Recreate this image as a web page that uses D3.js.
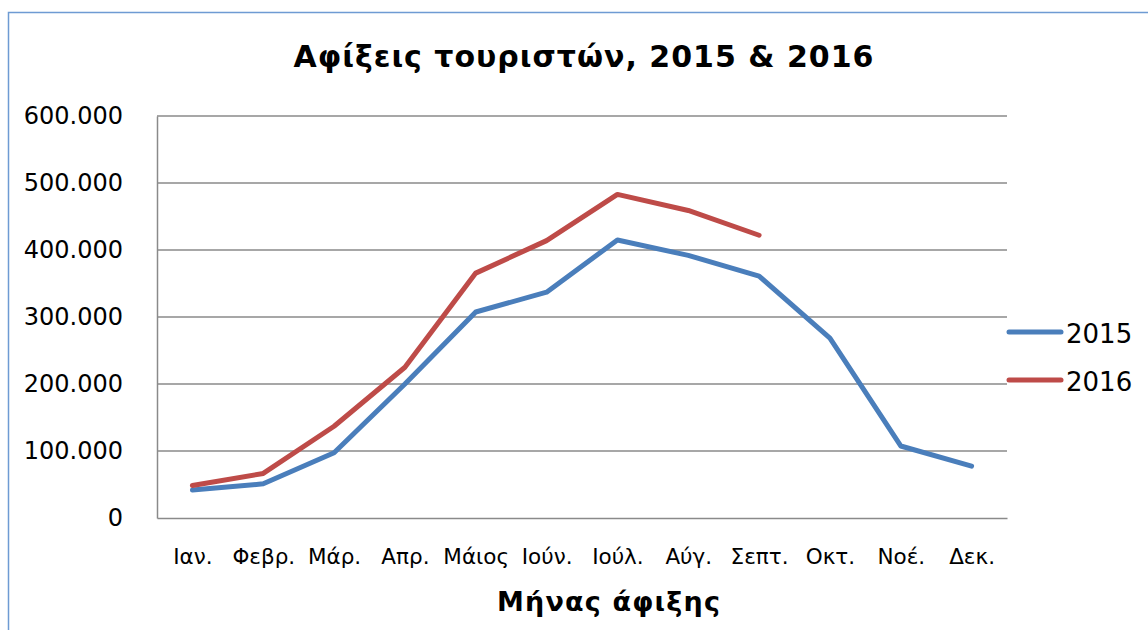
<!DOCTYPE html>
<html><head><meta charset="utf-8">
<script src="https://cdn.jsdelivr.net/npm/d3@7"></script>
<style>
html,body{margin:0;padding:0;background:#fff;overflow:hidden}
text{font-family:"DejaVu Sans",Verdana,sans-serif;fill:#000}
</style></head>
<body>
<svg id="chart" width="1148" height="630"></svg>
<script>
const months = ["Ιαν.","Φεβρ.","Μάρ.","Απρ.","Μάιος","Ιούν.","Ιούλ.","Αύγ.","Σεπτ.","Οκτ.","Νοέ.","Δεκ."];
const values2015 = [41700, 51000, 97500, 200000, 307500, 337000, 415000, 392000, 361000, 268500, 107500, 77500];
const values2016 = [48500, 66500, 137000, 225000, 365500, 414000, 483000, 459000, 422000];
const yTicks = [0, 100000, 200000, 300000, 400000, 500000, 600000];
const seriesNames = ["2015", "2016"];
const seriesColors = ["#4a7ebb", "#be4b48"];

const svg = d3.select("#chart");
const m = {left:157, right:1007, top:116, bottom:518};

// outer border
svg.append("rect").attr("x",8.5).attr("y",12.5).attr("width",1300).attr("height",800)
  .attr("fill","none").attr("stroke","#6e9bd3").attr("stroke-width",1.5);

const x = d3.scalePoint().domain(months).range([m.left, m.right]).padding(0.5);
const y = d3.scaleLinear().domain([0, 600000]).range([m.bottom, m.top]);
const fmt = v => d3.format(",")(v).replace(/,/g, ".");

// gridlines
const g = svg.append("g");
g.selectAll("line.grid").data(yTicks.filter(d=>d>0)).join("line")
  .attr("x1", m.left).attr("x2", m.right)
  .attr("y1", d=>y(d)).attr("y2", d=>y(d))
  .attr("stroke","#8a8a8a").attr("stroke-width",1.5);

// y axis
const yAxis = d3.axisLeft(y).tickValues(yTicks).tickFormat(fmt).tickSize(0).tickPadding(34);
const ya = svg.append("g").attr("transform",`translate(${m.left},0)`).call(yAxis);
ya.select(".domain").attr("stroke","#8a8a8a").attr("stroke-width",1.5);
ya.selectAll("text").style("font-size","24px").attr("fill","#000").attr("font-family",null);

// x axis
const xAxis = d3.axisBottom(x).tickSize(0).tickPadding(31);
const xa = svg.append("g").attr("transform",`translate(0,${m.bottom})`).call(xAxis);
xa.select(".domain").attr("stroke","#8a8a8a").attr("stroke-width",1.5);
xa.selectAll("text").style("font-size","21.5px").attr("fill","#000").attr("font-family",null);

// lines
const line = d3.line().x((d,i)=>x(months[i])).y(d=>y(d));
[values2015, values2016].forEach((vals,k)=>{
  svg.append("path").datum(vals).attr("d", line)
    .attr("fill","none").attr("stroke",seriesColors[k]).attr("stroke-width",5)
    .attr("stroke-linejoin","round").attr("stroke-linecap","round");
});

// legend
const legY = [332, 380];
seriesNames.forEach((n,k)=>{
  svg.append("line").attr("x1",1009).attr("x2",1061).attr("y1",legY[k]).attr("y2",legY[k])
    .attr("stroke",seriesColors[k]).attr("stroke-width",5).attr("stroke-linecap","round");
  svg.append("text").attr("x",1066).attr("y",legY[k]+11).text(n).style("font-size","26px");
});

// titles
svg.append("text").attr("x",584).attr("y",67).attr("text-anchor","middle")
  .style("font-size","30px").style("font-weight","bold").style("letter-spacing","1px")
  .text("Αφίξεις τουριστών, 2015 & 2016");
svg.append("text").attr("x",609).attr("y",611).attr("text-anchor","middle")
  .style("font-size","27px").style("font-weight","bold").style("letter-spacing","1.2px")
  .text("Μήνας άφιξης");
</script>
</body></html>
